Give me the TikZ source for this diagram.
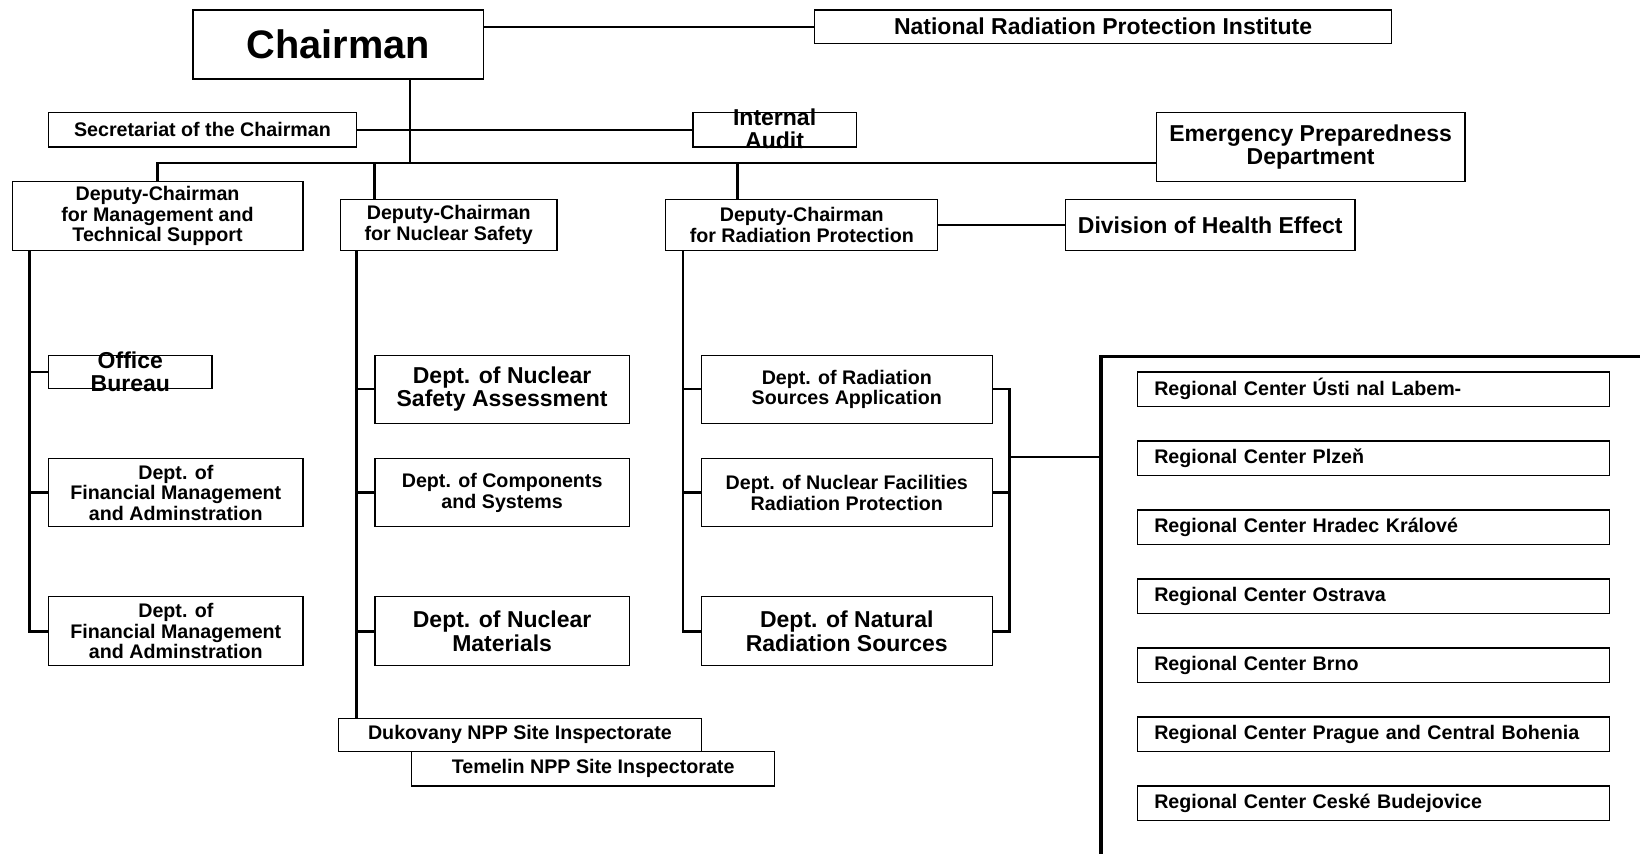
\documentclass[tikz,border=0pt]{standalone}
\usepackage{fontspec}
\setmainfont{Liberation Sans}
\newcommand{\orgS}{\fontsize{18.8}{19.6}\selectfont\bfseries}
\newcommand{\orgM}{\fontsize{22}{22.2}\selectfont\bfseries}
\newcommand{\orgL}{\fontsize{38}{40}\selectfont\bfseries}
\begin{document}
\begin{tikzpicture}[x=1pt,y=-1pt,
  box/.style={draw=black, line width=1.2pt, fill=white, inner sep=0pt,
    align=center, anchor=north west, font=\orgS},
  boxM/.style={box, font=\orgM},
  lbl/.style={inner sep=0pt, align=center},
  regbox/.style={draw=black, line width=1.2pt, inner xsep=16pt, inner ysep=0pt,
    text width=419pt, minimum height=33pt, align=left, anchor=north west, font=\orgS},
  bigbox/.style={draw=black, line width=3.5pt, inner sep=0pt, anchor=north west},
  conn/.style={draw=black, line width=2.4pt, line join=miter}]

\useasboundingbox (0,0) rectangle (1568,816);
\clip (0,0) rectangle (1568,816);

% --- top level ---
\node[box, font=\orgL, minimum width=278pt, minimum height=66pt] (chair) at (184,9) {Chairman};
\node[boxM, minimum width=552pt, minimum height=32pt] (nrpi) at (778,9) {National Radiation Protection Institute};
\node[box, minimum width=294pt, minimum height=33pt] (sec) at (46,107) {Secretariat of the Chairman};
\node[box, minimum width=156pt, minimum height=33pt] (audit) at (662,107) {};
\node[lbl, font=\orgM, yshift=1pt] (auditlbl) at (audit.center) {Internal\\Audit};
\node[boxM, minimum width=295pt, minimum height=66pt] (emerg) at (1105,107) {Emergency Preparedness\\Department};

% --- deputies ---
\node[box, minimum width=278pt, minimum height=66pt] (dep1) at (11,173) {Deputy-Chairman\\for Management and\\Technical Support};
\node[box, minimum width=207pt, minimum height=49pt] (dep2) at (325,190) {Deputy-Chairman\\for Nuclear Safety};
\node[box, minimum width=260pt, minimum height=49pt] (dep3) at (636,190) {Deputy-Chairman\\for Radiation Protection};
\node[boxM, minimum width=277pt, minimum height=49pt] (dhe) at (1018,190) {Division of Health Effect};

% --- management and technical support ---
\node[box, minimum width=156pt, minimum height=32pt] (office) at (46,339) {};
\node[lbl, font=\orgM] (officelbl) at (office.center) {Office\\Bureau};
\node[box, minimum width=243pt, minimum height=65pt] (fin1) at (46,438) {Dept. of\\Financial Management\\and Adminstration};
\node[box, minimum width=243pt, minimum height=66pt] (fin2) at (46,570) {Dept. of\\Financial Management\\and Adminstration};

% --- nuclear safety ---
\node[boxM, minimum width=243pt, minimum height=65pt] (nsa) at (358,339) {Dept. of Nuclear\\Safety Assessment};
\node[box, minimum width=243pt, minimum height=65pt] (comp) at (358,438) {Dept. of Components\\and Systems};
\node[boxM, minimum width=243pt, minimum height=66pt] (nmat) at (358,570) {Dept. of Nuclear\\Materials};
\node[box, minimum width=347pt, minimum height=32pt] (duk) at (323,686) {Dukovany NPP Site Inspectorate};
\node[box, minimum width=347pt, minimum height=33pt] (tem) at (393,718) {Temelin NPP Site Inspectorate};

% --- radiation protection ---
\node[box, minimum width=278pt, minimum height=65pt] (rsa) at (670,339) {Dept. of Radiation\\Sources Application};
\node[box, minimum width=278pt, minimum height=65pt] (nfrp) at (670,438) {Dept. of Nuclear Facilities\\Radiation Protection};
\node[boxM, minimum width=278pt, minimum height=66pt] (nrs) at (670,570) {Dept. of Natural\\Radiation Sources};

% --- regional centres ---
\node[bigbox, minimum width=600pt, minimum height=560pt] (region) at (1051,339) {};
\node[regbox] (rc1) at (1087,355) {Regional Center Ústi nal Labem-};
\node[regbox] (rc2) at (1087,421) {Regional Center Plzeň};
\node[regbox] (rc3) at (1087,487) {Regional Center Hradec Králové};
\node[regbox] (rc4) at (1087,553) {Regional Center Ostrava};
\node[regbox] (rc5) at (1087,619) {Regional Center Brno};
\node[regbox] (rc6) at (1087,685) {Regional Center Prague and Central Bohenia};
\node[regbox] (rc7) at (1087,751) {Regional Center Ceské Budejovice};

% --- connector junctions ---
\coordinate (bus) at (392,156);
\coordinate (d2) at (358,156);
\coordinate (d3) at (705,156);
\coordinate (spL) at (28,239);
\coordinate (spM) at (341,239);
\coordinate (spR) at (653,239);
\coordinate (brk) at (965,437);

% --- connectors ---
\draw[conn] (chair.east |- nrpi.west) -- (nrpi.west);
\draw[conn] (bus |- chair.south) -- (bus);
\draw[conn] (sec.east) -- (audit.west);
\draw[conn] (dep1.north) -- (dep1.north |- bus) -- (bus -| emerg.west);
\draw[conn] (d2) -- (d2 |- dep2.north);
\draw[conn] (d3) -- (d3 |- dep3.north);
\draw[conn] (dep3.east) -- (dhe.west);

\draw[conn] (spL |- dep1.south) -- (spL |- fin2.west) -- (fin2.west);
\draw[conn] (spL |- office.west) -- (office.west);
\draw[conn] (spL |- fin1.west) -- (fin1.west);

\draw[conn] (spM |- dep2.south) -- (spM |- duk.north);
\draw[conn] (spM |- nsa.west) -- (nsa.west);
\draw[conn] (spM |- comp.west) -- (comp.west);
\draw[conn] (spM |- nmat.west) -- (nmat.west);

\draw[conn] (spR |- dep3.south) -- (spR |- nrs.west) -- (nrs.west);
\draw[conn] (spR |- rsa.west) -- (rsa.west);
\draw[conn] (spR |- nfrp.west) -- (nfrp.west);

\draw[conn] (rsa.east) -- (rsa.east -| brk) -- (nrs.east -| brk) -- (nrs.east);
\draw[conn] (nfrp.east) -- (nfrp.east -| brk);
\draw[conn] (brk) -- (brk -| region.west);
\end{tikzpicture}
\end{document}
